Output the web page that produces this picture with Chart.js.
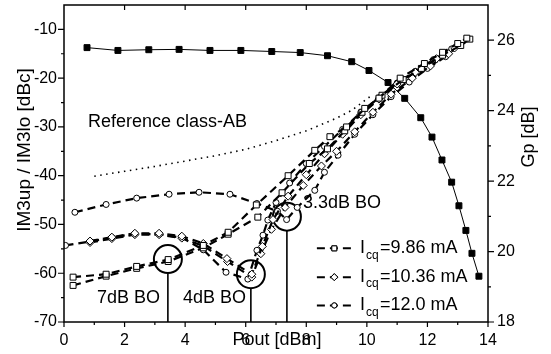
<!DOCTYPE html>
<html>
<head>
<meta charset="utf-8">
<script src="https://cdn.jsdelivr.net/npm/chart.js@4.4.1/dist/chart.umd.min.js"></script>
<style>
  html, body { margin: 0; padding: 0; background: #fff; }
  #wrap { width: 551px; height: 354px; position: relative; }
</style>
</head>
<body>
<div id="wrap"><canvas id="im3Chart"></canvas></div>
<script>
// IM3 vs Pout for three quiescent currents (up/lo each), gain on the right axis

// Iq = 9.86 mA (open squares)
const sqUpX = [0.3, 1.39, 2.4, 3.44, 4.6, 5.42, 6.35, 7.4, 8.28, 8.78, 9.33, 9.93, 10.4, 11.1, 11.9, 12.5, 13.0, 13.3];
const sqUpY = [-60.8, -60.2, -58.6, -57.2, -54.3, -51.6, -46.0, -40.0, -34.8, -32.0, -30.0, -26.2, -24.1, -20.0, -17.0, -14.7, -12.9, -11.8];
const sqLoX = [0.3, 1.39, 2.4, 3.44, 4.6, 5.42, 6.4, 7.2, 8.1, 8.7, 9.27, 9.84, 10.5, 11.2, 11.8, 12.5, 13.1, 13.4];
const sqLoY = [-62.5, -60.6, -59.0, -57.6, -54.8, -52.0, -48.5, -43.5, -37.5, -34.5, -30.8, -27.0, -23.5, -20.3, -18.0, -15.3, -13.3, -12.0];

// Iq = 10.36 mA (open diamonds)
const dmUpX = [0.86, 1.58, 2.34, 3.14, 3.89, 4.6, 5.38, 6.2, 6.55, 6.9, 7.4, 8.0, 8.6, 9.2, 9.8, 10.4, 11.0, 11.6, 12.3, 12.9];
const dmUpY = [-53.4, -52.6, -51.8, -51.8, -52.4, -53.9, -57.0, -60.2, -54.5, -49.0, -44.2, -39.8, -35.5, -31.5, -27.5, -24.3, -21.2, -18.8, -16.0, -13.8];
const dmLoX = [0.86, 1.58, 2.34, 3.14, 3.89, 4.6, 5.4, 6.2, 6.5, 6.85, 7.3, 7.9, 8.5, 9.0, 9.6, 10.2, 10.8, 11.5, 12.1, 12.7];
const dmLoY = [-53.7, -52.9, -52.1, -52.1, -52.8, -54.4, -57.6, -60.8, -56.0, -51.0, -46.5, -42.0, -38.0, -35.0, -31.0, -27.0, -23.3, -20.0, -17.5, -15.0];

// Iq = 12.0 mA (open circles)
const ciUpX = [0.36, 1.39, 2.4, 3.47, 4.46, 5.48, 6.37, 7.05, 7.35, 7.7, 8.28, 8.6, 9.05, 9.6, 10.2, 10.8, 11.4, 12.0, 12.6];
const ciUpY = [-47.5, -45.9, -44.6, -43.8, -43.4, -43.8, -45.7, -47.3, -49.0, -46.5, -43.0, -39.3, -35.8, -31.5, -27.5, -23.8, -20.8, -18.0, -15.6];
const ciLoX = [0.05, 0.86, 1.58, 2.34, 3.14, 3.89, 4.6, 5.35, 6.07, 6.37, 6.57, 6.73, 7.0, 7.45, 8.0, 8.6, 9.2, 9.8, 10.4, 11.0, 11.6, 12.2, 12.8];
const ciLoY = [-54.3, -53.5, -52.7, -51.9, -52.0, -52.7, -55.2, -59.8, -61.2, -55.3, -52.2, -49.1, -45.5, -41.5, -37.5, -34.0, -30.5, -27.0, -24.0, -21.0, -18.6, -16.2, -14.0];

// reference class-AB (dotted)
const refX = [1.0, 2.0, 3.0, 4.0, 5.0, 6.0, 7.0, 8.0, 9.0, 9.5, 10.1];
const refY = [-40.1, -39.1, -38.1, -37.0, -35.9, -34.6, -32.8, -30.8, -28.2, -26.6, -23.8];

// power gain Gp [dB], right axis
const gpX = [0.76, 1.78, 2.8, 3.8, 4.82, 5.84, 6.86, 7.8, 8.7, 9.5, 10.07, 10.7, 11.25, 11.78, 12.15, 12.48, 12.8, 13.04, 13.27, 13.47, 13.7];
const gpY = [25.79, 25.71, 25.73, 25.74, 25.71, 25.71, 25.68, 25.65, 25.56, 25.39, 25.14, 24.8, 24.35, 23.8, 23.25, 22.6, 21.97, 21.3, 20.6, 19.95, 19.3];

// back-off markers: circle centre, bottom of the drop line
const boLabels = ['7dB BO', '4dB BO', '3.3dB BO'];
const boX = [3.43, 6.17, 7.36];
const boY = [-57.1, -60.2, -48.4];
const boLineTop = [-60.0, -63.1, -51.2];

const legendLabels = ['=9.86 mA', '=10.36 mA', '=12.0 mA'];

const FONT = '"Liberation Sans", Arial, sans-serif';
const pts = (xs, ys) => xs.map((x, i) => ({ x: x, y: ys[i] }));

function im3Set(label, xs, ys, style, r) {
    return {
        label: label,
        data: pts(xs, ys),
        showLine: true,
        borderColor: '#000',
        borderWidth: 2.2,
        borderDash: [8, 5],
        pointStyle: style,
        pointRadius: r,
        pointBorderWidth: 1,
        pointBackgroundColor: '#fff',
        pointBorderColor: '#000',
        yAxisID: 'y'
    };
}

const datasets = [
    im3Set('sq up', sqUpX, sqUpY, 'rect', 4.2),
    im3Set('sq lo', sqLoX, sqLoY, 'rect', 4.2),
    im3Set('dm up', dmUpX, dmUpY, 'rectRot', 4),
    im3Set('dm lo', dmLoX, dmLoY, 'rectRot', 4),
    im3Set('ci up', ciUpX, ciUpY, 'circle', 3),
    im3Set('ci lo', ciLoX, ciLoY, 'circle', 3),
    {
        label: 'ref',
        data: pts(refX, refY),
        showLine: true,
        borderColor: '#000',
        borderWidth: 1.6,
        borderDash: [1.5, 4.5],
        pointRadius: 0,
        yAxisID: 'y'
    },
    {
        label: 'Gp',
        data: pts(gpX, gpY),
        showLine: true,
        borderColor: '#000',
        borderWidth: 1,
        pointStyle: 'rect',
        pointRadius: 4.2,
        pointBackgroundColor: '#000',
        pointBorderColor: '#000',
        yAxisID: 'y2'
    },
    {
        label: 'BO circles',
        data: pts(boX, boY),
        showLine: false,
        pointStyle: 'circle',
        pointRadius: 14,
        pointBorderWidth: 2,
        pointBorderColor: '#000',
        pointBackgroundColor: 'rgba(0,0,0,0)',
        yAxisID: 'y'
    }
];
boX.forEach((x, i) => {
    datasets.push({
        label: 'drop ' + i,
        data: [{ x: x, y: boLineTop[i] }, { x: x, y: -70 }],
        showLine: true,
        borderColor: '#000',
        borderWidth: 1.6,
        pointRadius: 0,
        yAxisID: 'y'
    });
});

// axis box, tick marks, titles, texts, legend
const decorations = {
    id: 'decorations',
    afterDraw(chart) {
        const ctx = chart.ctx;
        const a = chart.chartArea;
        const sx = chart.scales.x, sy = chart.scales.y, sy2 = chart.scales.y2;
        ctx.save();
        ctx.strokeStyle = '#000';
        ctx.fillStyle = '#000';
        ctx.lineWidth = 1.5;
        ctx.strokeRect(a.left, a.top, a.right - a.left, a.bottom - a.top);

        ctx.lineWidth = 1.2;
        ctx.beginPath();
        for (let v = 0; v <= 14; v++) {
            const px = sx.getPixelForValue(v);
            const len = v % 2 === 0 ? 5 : 3;
            ctx.moveTo(px, a.bottom); ctx.lineTo(px, a.bottom + len);
            if (v % 2 === 0 && v > 0 && v < 14) { ctx.moveTo(px, a.top); ctx.lineTo(px, a.top + 5); }
        }
        for (let v = -70; v <= -10; v += 5) {
            const py = sy.getPixelForValue(v);
            const len = v % 10 === 0 ? 6 : 3;
            ctx.moveTo(a.left, py); ctx.lineTo(a.left - len, py);
        }
        for (let v = 18; v <= 26; v++) {
            const py = sy2.getPixelForValue(v);
            const len = v % 2 === 0 ? 6 : 3;
            ctx.moveTo(a.right, py); ctx.lineTo(a.right + len, py);
        }
        ctx.stroke();

        // axis titles
        ctx.font = '18px ' + FONT;
        ctx.textAlign = 'center';
        ctx.textBaseline = 'middle';
        ctx.fillText('Pout [dBm]', 277, 340);
        ctx.save();
        ctx.translate(25, 150);
        ctx.rotate(-Math.PI / 2);
        ctx.font = '19px ' + FONT;
        ctx.fillText('IM3up / IM3lo [dBc]', 0, 0);
        ctx.restore();
        ctx.save();
        ctx.translate(529, 137);
        ctx.rotate(-Math.PI / 2);
        ctx.fillText('Gp [dB]', 0, 0);
        ctx.restore();

        // in-plot texts
        ctx.textAlign = 'left';
        ctx.font = '18px ' + FONT;
        ctx.fillText('Reference class-AB', sx.getPixelForValue(0.79), sy.getPixelForValue(-28.95));
        ctx.fillText(boLabels[0], sx.getPixelForValue(1.09), sy.getPixelForValue(-65.1));
        ctx.fillText(boLabels[1], sx.getPixelForValue(3.93), sy.getPixelForValue(-65.1));
        ctx.fillText(boLabels[2], sx.getPixelForValue(7.89), sy.getPixelForValue(-45.7));

        // legend
        const styles = ['rect', 'rectRot', 'circle'];
        const radii = [3.5, 3.5, 2.6];
        const rows = [-54.9, -60.8, -66.6];
        const lx0 = sx.getPixelForValue(8.35), lx1 = sx.getPixelForValue(9.5);
        const tx = sx.getPixelForValue(9.77);
        rows.forEach((rv, i) => {
            const py = sy.getPixelForValue(rv);
            ctx.lineWidth = 2;
            ctx.setLineDash([8, 5]);
            ctx.beginPath(); ctx.moveTo(lx0, py); ctx.lineTo(lx1, py); ctx.stroke();
            ctx.setLineDash([]);
            ctx.lineWidth = 1;
            ctx.fillStyle = '#fff';
            ctx.beginPath();
            Chart.helpers.drawPoint(ctx, { pointStyle: styles[i], radius: radii[i], borderWidth: 1 }, (lx0 + lx1) / 2, py);
            ctx.fill(); ctx.stroke();
            ctx.fillStyle = '#000';
            ctx.font = '18px ' + FONT;
            ctx.fillText('I', tx, py);
            ctx.font = '12px ' + FONT;
            ctx.fillText('cq', tx + 6, py + 7);
            ctx.font = '18px ' + FONT;
            ctx.fillText(legendLabels[i], tx + 20, py);
        });
        ctx.restore();
    }
};

new Chart(document.getElementById('im3Chart'), {
    type: 'scatter',
    data: { datasets: datasets },
    options: {
        responsive: true,
        maintainAspectRatio: false,
        animation: false,
        layout: { autoPadding: false, padding: { top: 5, left: 0, right: 0, bottom: 0 } },
        plugins: { legend: { display: false }, tooltip: { enabled: false } },
        scales: {
            x: {
                type: 'linear', min: 0, max: 14,
                grid: { display: false, drawTicks: false },
                border: { display: false },
                ticks: { stepSize: 2, padding: 9, color: '#000', font: { family: FONT, size: 16 } },
                afterFit: s => { s.height = 32; s.paddingLeft = 0; s.paddingRight = 0; }
            },
            y: {
                type: 'linear', position: 'left', min: -70, max: -5,
                grid: { display: false, drawTicks: false },
                border: { display: false },
                ticks: { padding: 7, color: '#000', font: { family: FONT, size: 16 } },
                afterBuildTicks: s => { s.ticks = [-70, -60, -50, -40, -30, -20, -10].map(v => ({ value: v })); },
                afterFit: s => { s.width = 64; s.paddingTop = 0; s.paddingBottom = 0; }
            },
            y2: {
                type: 'linear', position: 'right', min: 18, max: 27,
                grid: { display: false, drawTicks: false },
                border: { display: false },
                ticks: { padding: 9, color: '#000', font: { family: FONT, size: 16 } },
                afterBuildTicks: s => { s.ticks = [18, 20, 22, 24, 26].map(v => ({ value: v })); },
                afterFit: s => { s.width = 63; s.paddingTop = 0; s.paddingBottom = 0; }
            }
        }
    },
    plugins: [decorations]
});
</script>
</body>
</html>
